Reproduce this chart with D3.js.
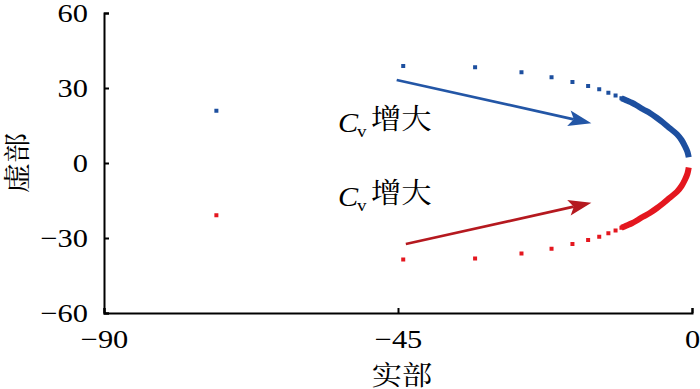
<!DOCTYPE html>
<html>
<head>
<meta charset="utf-8">
<script src="https://cdn.jsdelivr.net/npm/d3@7"></script>
<style>
  html, body { margin: 0; padding: 0; background: #fff; }
  svg { display: block; }
</style>
</head>
<body>
<div id="chart"></div>
<script>
// tick values
const xTicks = [-90, -45, 0];
const yTicks = [-60, -30, 0, 30, 60];

// poles, upper branch
const bluePoints = [
  [-72.8, 20.9], [-44.2, 38.8], [-33.2, 38.3], [-26.1, 36.3], [-21.5, 34.3],
  [-18.3, 32.4], [-15.9, 30.8], [-14.2, 29.5], [-12.8, 28.1], [-11.7, 27.0],
  [-10.8, 25.9], [-10.0, 25.0]
];
// the dense part near the imaginary axis
const blueBranch = [
  [-10.8, 25.9], [-10.0, 25.0], [-9.2, 24.1], [-8.5, 23.1], [-7.5, 21.5], [-6.4, 19.9],
  [-5.4, 18.1], [-4.4, 16.1], [-3.4, 13.9], [-2.3, 11.5], [-1.6, 9.2],
  [-1.1, 6.8], [-0.7, 4.5], [-0.5, 2.3]
];

// lower branch
const redPoints = [
  [-72.8, -20.9], [-44.2, -38.6], [-33.2, -38.2], [-26.1, -36.2], [-21.5, -34.3],
  [-18.3, -32.4], [-15.9, -30.8], [-14.2, -29.5], [-12.8, -28.1], [-11.7, -27.0],
  [-10.8, -25.9], [-10.0, -25.0]
];
const redBranch = [
  [-10.8, -25.9], [-10.0, -25.0], [-9.2, -24.1], [-8.5, -23.1], [-7.5, -21.5], [-6.4, -19.9],
  [-5.4, -18.1], [-4.4, -16.1], [-3.4, -13.9], [-2.3, -11.5], [-1.6, -9.2],
  [-1.1, -6.8], [-0.7, -4.3], [-0.5, -1.8]
];

// "Cv 增大" arrows, start and tip in data units
const arrowStarts = [[-45.2, 33.2], [-43.8, -32.4]];
const arrowTips = [[-15.4, 15.9], [-15.4, -15.9]];

const W = 700, H = 389;
const BLUE = "#1d4f9f", RED = "#e4171f";
const arrowColors = ["#2356a6", "#b5191f"];
const latin = "'Liberation Serif', 'Times New Roman', serif";
const cjk = "'Noto Serif CJK SC', 'Noto Sans CJK SC', sans-serif";
const stretch = 1.17; // the original picture is a bit wide

let svg = d3.select("#chart").append("svg")
    .attr("width", W)
    .attr("height", H);

let x = d3.scaleLinear().domain([-90, 0]).range([104, 692]);
let y = d3.scaleLinear().domain([-60, 60]).range([313, 13]);

// axes, ticks pointing inward
let xAxis = svg.append("g")
    .attr("transform", `translate(0,${y(-60)})`)
    .call(d3.axisBottom(x).tickValues(xTicks).tickSize(-5));
let yAxis = svg.append("g")
    .attr("transform", `translate(${x(-90)},0)`)
    .call(d3.axisLeft(y).tickValues(yTicks).tickSize(-5));

svg.selectAll(".domain, .tick line")
    .attr("stroke", "#000")
    .attr("stroke-width", 2);

xAxis.selectAll("text")
    .attr("y", 35)
    .attr("dy", 0)
    .attr("transform", `scale(${stretch},1)`);
yAxis.selectAll("text")
    .attr("x", -16 / stretch)
    .attr("transform", `scale(${stretch},1)`);
svg.selectAll(".tick text")
    .attr("font-family", latin)
    .attr("font-size", 26)
    .attr("fill", "#000");

function label(txt, px, py, size, family, opts) {
  opts = opts || {};
  let t = svg.append("text")
      .attr("transform", `translate(${px},${py})${opts.rotate ? " rotate(-90)" : ""} scale(${opts.sx || 1},1)`)
      .attr("text-anchor", opts.anchor || "start")
      .attr("font-family", family)
      .attr("font-size", size)
      .attr("font-style", opts.italic ? "italic" : "normal")
      .attr("fill", "#000")
      .text(txt);
  return t;
}

// axis titles
label("实部", 402, 385, 27, cjk, {anchor: "middle", sx: 1.12});
label("虚部", 27, 163, 27, cjk, {anchor: "middle", rotate: true, sx: 1.12});

// dense branches drawn as a thick line
let line = d3.line()
    .x(d => x(d[0]))
    .y(d => y(d[1]))
    .curve(d3.curveCatmullRom);

svg.append("path").datum(blueBranch)
    .attr("d", line)
    .attr("fill", "none")
    .attr("stroke", BLUE)
    .attr("stroke-width", 6);
svg.append("path").datum(redBranch)
    .attr("d", line)
    .attr("fill", "none")
    .attr("stroke", RED)
    .attr("stroke-width", 6);

let ms = 4;
function squares(data, color) {
  svg.append("g").selectAll("rect")
    .data(data)
    .join("rect")
      .attr("x", d => x(d[0]) - ms / 2)
      .attr("y", d => y(d[1]) - ms / 2)
      .attr("width", ms)
      .attr("height", ms)
      .attr("fill", color);
}
squares(bluePoints, BLUE);
squares(redPoints, RED);

// arrows with a notched head
arrowStarts.forEach(function(s, i) {
  let x0 = x(s[0]), y0 = y(s[1]);
  let x1 = x(arrowTips[i][0]), y1 = y(arrowTips[i][1]);
  let dx = x1 - x0, dy = y1 - y0;
  let l = Math.sqrt(dx * dx + dy * dy);
  let ux = dx / l, uy = dy / l;
  let nx = -uy, ny = ux;
  let L = 23, w = 8, notch = 5;
  let bx = x1 - L * ux, by = y1 - L * uy;
  let mx = x1 - (L - notch) * ux, my = y1 - (L - notch) * uy;
  svg.append("line")
      .attr("x1", x0).attr("y1", y0)
      .attr("x2", mx).attr("y2", my)
      .attr("stroke", arrowColors[i])
      .attr("stroke-width", 2.7);
  svg.append("path")
      .attr("d", `M${x1},${y1}L${bx + w * nx},${by + w * ny}L${mx},${my}L${bx - w * nx},${by - w * ny}Z`)
      .attr("fill", arrowColors[i]);
});

// "Cv 增大" labels
[131.5, 205.5].forEach(function(base) {
  label("C", 338, base, 27, latin, {italic: true, sx: 1.12});
  label("v", 357, base + 5, 17, latin, {sx: 1.12});
  label("增大", 371, base - 2.5, 28, cjk, {sx: 1.08});
});
</script>
</body>
</html>
